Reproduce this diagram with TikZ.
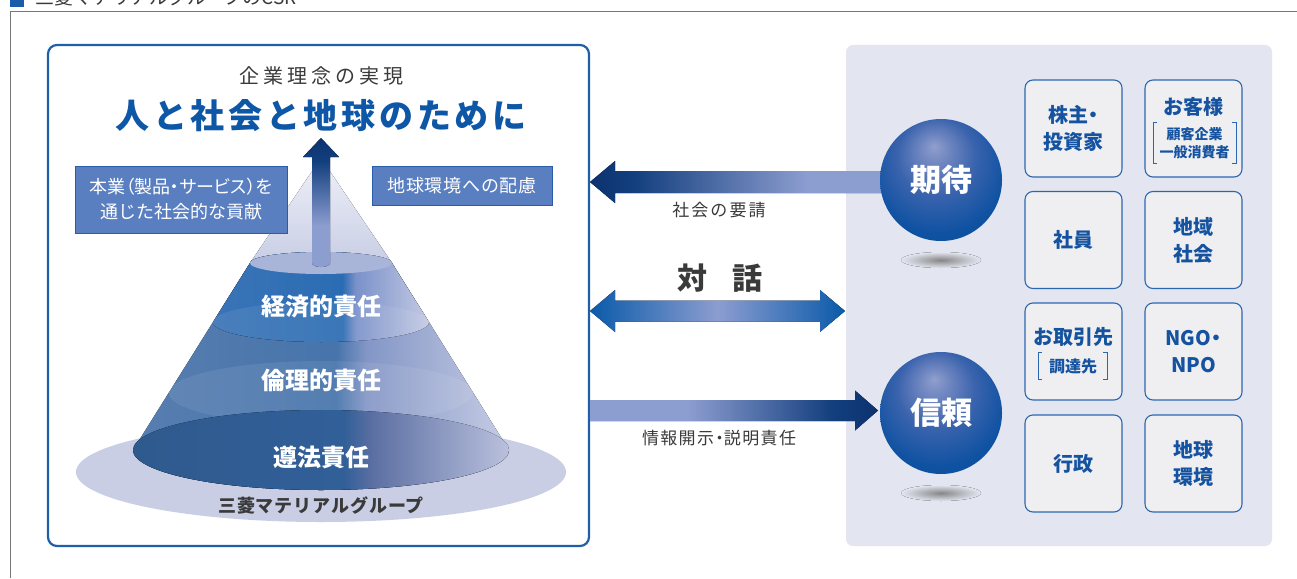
\documentclass[tikz,border=0pt]{standalone}
\usepackage{fontspec}
\setmainfont{Noto Sans CJK JP}
\usetikzlibrary{calc}
\definecolor{frameblue}{HTML}{1F5FA9}
\definecolor{panelbg}{HTML}{E3E6F1}
\definecolor{boxfill}{HTML}{EFEFF2}
\definecolor{boxline}{HTML}{2B67B0}
\definecolor{boxtext}{HTML}{1553A0}
\definecolor{titleblue}{HTML}{0E56A6}
\definecolor{darktext}{HTML}{3A3A3A}
\definecolor{tagfill}{HTML}{5A7FC1}
\definecolor{tagline}{HTML}{2B5CA9}
\definecolor{basec}{HTML}{C9CEE5}
\definecolor{faceA}{HTML}{A8B5D9}
\definecolor{graylinec}{HTML}{777777}
\definecolor{navy}{HTML}{0C326F}
\definecolor{navyb}{HTML}{133F7E}
\definecolor{arrlight}{HTML}{8C9DD0}
\definecolor{dblue}{HTML}{0A5AA9}
\definecolor{shadowc}{HTML}{858585}
\definecolor{hdrblue}{HTML}{1A5CA8}
% cone colours
\definecolor{bAa}{HTML}{3B74B7}\definecolor{bAb}{HTML}{2A6CB3}\definecolor{bAc}{HTML}{7A91CA}\definecolor{bAd}{HTML}{C4CAE3}
\definecolor{bBa}{HTML}{587EB0}\definecolor{bBb}{HTML}{4674AB}\definecolor{bBc}{HTML}{8396C6}\definecolor{bBd}{HTML}{C6CCE4}
\definecolor{bCa}{HTML}{2F5A8E}\definecolor{bCb}{HTML}{315F98}\definecolor{bCc}{HTML}{5D70A3}\definecolor{bCd}{HTML}{BAC1DD}
\definecolor{sph0}{HTML}{909FCD}\definecolor{sph1}{HTML}{6F86C0}\definecolor{sph2}{HTML}{3A63AD}\definecolor{sph3}{HTML}{0F52A2}\definecolor{sph4}{HTML}{0A4A98}
\pgfdeclarehorizontalshading{bandA}{100bp}{color(0bp)=(bAa); color(25bp)=(bAa); color(55bp)=(bAb); color(58bp)=(bAc); color(75bp)=(bAd); color(100bp)=(bAd)}
\pgfdeclarehorizontalshading{bandB}{100bp}{color(0bp)=(bBa); color(25bp)=(bBa); color(52bp)=(bBb); color(56bp)=(bBc); color(75bp)=(bBd); color(100bp)=(bBd)}
\pgfdeclarehorizontalshading{bandC}{100bp}{color(0bp)=(bCa); color(25bp)=(bCa); color(53bp)=(bCb); color(57bp)=(bCc); color(75bp)=(bCd); color(100bp)=(bCd)}
\pgfdeclarehorizontalshading{arrowleft}{100bp}{color(0bp)=(navy); color(25bp)=(navy); color(32bp)=(navyb); color(60bp)=(arrlight); color(100bp)=(arrlight)}
\pgfdeclarehorizontalshading{arrowright}{100bp}{color(0bp)=(arrlight); color(42bp)=(arrlight); color(67bp)=(navyb); color(75bp)=(navy); color(100bp)=(navy)}
\pgfdeclareverticalshading{arrowup}{100bp}{color(0bp)=(arrlight); color(41bp)=(arrlight); color(66bp)=(navyb); color(75bp)=(navy); color(100bp)=(navy)}
\pgfdeclareradialshading{sphereshade}{\pgfpoint{-3bp}{14bp}}{color(0bp)=(sph0); color(6bp)=(sph1); color(16bp)=(sph2); color(28bp)=(sph3); color(40bp)=(sph4); color(50bp)=(sph4)}
\pgfdeclareradialshading{shadowshade}{\pgfpoint{0bp}{0bp}}{color(0bp)=(shadowc); color(6bp)=(shadowc!75!panelbg); color(25bp)=(panelbg); color(50bp)=(panelbg)}
\newcommand\myboxfont{\bfseries\fontsize{20}{27}\selectfont}
\newcommand\mysphfont{\bfseries\fontsize{31}{36}\selectfont}
\newcommand\myconefont{\bfseries\fontsize{24}{28}\selectfont}
\newcommand\prop{\addfontfeature{RawFeature=+palt}}
\tikzset{
  lframe/.style={draw=frameblue, line width=2.2pt, rounded corners=9pt, fill=white, inner sep=0pt},
  panel/.style={fill=panelbg, rounded corners=7pt, inner sep=0pt},
  sbox/.style={draw=boxline, fill=boxfill, line width=1.1pt, rounded corners=8pt, minimum width=97pt, minimum height=97pt, inner sep=0pt, text=boxtext, font=\myboxfont, align=center},
  lbl/.style={inner sep=0pt},
  sphere/.style={circle, minimum size=122pt, inner sep=0pt, shading=sphereshade, text=white, font=\mysphfont},
  ballshadow/.style={shading=shadowshade},
  tagbox/.style={draw=tagline, fill=tagfill, line width=1pt, inner sep=0pt, text=white, align=center},
  bracket/.style={draw=boxline, line width=0.8pt},
  conetext/.style={inner sep=0pt, text=white, font=\myconefont},
  arrlabel/.style={inner sep=0pt, text=darktext, font=\fontsize{17}{20}\selectfont\addfontfeature{LetterSpace=12}},
}
\begin{document}
\begin{tikzpicture}[x=1pt,y=1pt]
\useasboundingbox (0,0) rectangle (1297,-578);
\clip (0,0) rectangle (1297,-578);
\fill[white] (0,0) rectangle (1297,-578);
% header (cut off at the top edge, as in the source)
\fill[hdrblue] (10,2) rectangle (24,-7);
\node[lbl, anchor=base west, text=darktext, font=\fontsize{19}{22}\selectfont] (hdr) at (35,-4.5) {三菱マテリアルグループのCSR};
% outer frame
\draw[graylinec, line width=0.9pt] (10,-578) -- (10,-11) -- (1297,-11);
% left frame and right panel
\node[lframe, minimum width=541pt, minimum height=501pt] (lbox) at (318.5,-295.5) {};
\node[panel, minimum width=426pt, minimum height=501pt] (rpanel) at (1059,-295.5) {};
% titles
\node[lbl, text=darktext, font=\fontsize{20}{24}\selectfont\addfontfeature{LetterSpace=20}] (t1) at (321,-76) {企業理念の実現};
\node[lbl, text=titleblue, font=\bfseries\fontsize{34}{40}\selectfont\addfontfeature{LetterSpace=11}] (t2) at (321,-116) {人と社会と地球のために};
% cone
\fill[basec] (321,-472) ellipse [x radius=245, y radius=50];
\fill[top color=white!70!basec, bottom color=basec!85!faceA] (250,-263) -- (321,-158) -- (392,-263) arc [start angle=0, end angle=-180, x radius=71, y radius=11] -- cycle;
\fill[shading=bandB] (250,-263) -- (133,-450) arc [start angle=180, end angle=360, x radius=188, y radius=40] -- (392,-263) arc [start angle=0, end angle=180, x radius=71, y radius=11] -- cycle;
\fill[shading=bandA] (250,-263) -- (213,-322) arc [start angle=180, end angle=360, x radius=108, y radius=20] -- (392,-263) arc [start angle=0, end angle=180, x radius=71, y radius=11] -- cycle;
\fill[white, opacity=0.08] (321,-322) ellipse [x radius=108, y radius=20];
\fill[white, opacity=0.08] (321,-393) ellipse [x radius=152, y radius=32];
\fill[shading=bandC] (321,-450) ellipse [x radius=188, y radius=40];
\fill[faceA] (321,-263) ellipse [x radius=71, y radius=11];
% up arrow
\coordinate (upB) at (321,-263);
\coordinate (upT) at (321,-138);
\fill[shading=arrowup] ($(upB)+(-9,0)$) -- ($(upT)+(-9,-19)$) -- ($(upT)+(-18,-19)$) -- (upT) -- ($(upT)+(18,-19)$) -- ($(upT)+(9,-19)$) -- ($(upB)+(9,0)$) arc [start angle=0, end angle=-180, x radius=9, y radius=4] -- cycle;
% cone labels
\node[conetext] (c1) at (321,-307) {経済的責任};
\node[conetext] (c2) at (321,-380) {倫理的責任};
\node[conetext] (c3) at (321,-457) {遵法責任};
\node[lbl, text=darktext, font=\bfseries\fontsize{18}{22}\selectfont\addfontfeature{LetterSpace=5}] (grp) at (321,-505) {三菱マテリアルグループ};
% tags
\node[tagbox, minimum width=212pt, minimum height=67pt, font=\fontsize{18}{25}\selectfont] (tag1) at (181,-199.5) {{\prop 本業（製品・サービス）を}\\通じた社会的な貢献};
\node[tagbox, minimum width=180pt, minimum height=39pt, font=\fontsize{18}{22}\selectfont\addfontfeature{LetterSpace=4}] (tag2) at (462,-185.5) {地球環境への配慮};
% arrows
\coordinate (a1L) at (590,-182);
\coordinate (a1R) at (900,-182);
\fill[shading=arrowleft] (a1L) -- ($(a1L)+(25,21)$) -- ($(a1L)+(25,11)$) -- ($(a1R)+(0,11)$) -- ($(a1R)+(0,-11)$) -- ($(a1L)+(25,-11)$) -- ($(a1L)+(25,-21)$) -- cycle;
\coordinate (a2L) at (590,-311);
\coordinate (a2R) at (845,-311);
\fill[left color=dblue, right color=dblue, middle color=arrlight] (a2L) -- ($(a2L)+(25,21)$) -- ($(a2L)+(25,10.5)$) -- ($(a2R)+(-25,10.5)$) -- ($(a2R)+(-25,21)$) -- (a2R) -- ($(a2R)+(-25,-21)$) -- ($(a2R)+(-25,-10.5)$) -- ($(a2L)+(25,-10.5)$) -- ($(a2L)+(25,-21)$) -- cycle;
\coordinate (a3L) at (590,-410.5);
\coordinate (a3R) at (878,-410.5);
\fill[shading=arrowright] ($(a3L)+(0,10.5)$) -- ($(a3R)+(-23,10.5)$) -- ($(a3R)+(-23,20)$) -- (a3R) -- ($(a3R)+(-23,-20)$) -- ($(a3R)+(-23,-10.5)$) -- ($(a3L)+(0,-10.5)$) -- cycle;
\node[arrlabel] (l1) at (719,-210) {社会の要請};
\node[lbl, text=darktext, font=\bfseries\fontsize{30}{34}\selectfont] (l2) at (720,-278) {対\hspace{25pt}話};
\node[arrlabel, font=\fontsize{17}{20}\selectfont\addfontfeature{LetterSpace=8}] (l3) at (719,-438) {{\prop 情報開示・}説明責任};
% spheres
\fill[ballshadow] (941,-260) ellipse [x radius=40, y radius=8];
\fill[ballshadow] (941,-493) ellipse [x radius=40, y radius=8];
\node[sphere] (s1) at (941,-180) {期待};
\node[sphere] (s2) at (941,-413) {信頼};
% stakeholder boxes
\node[sbox] (b1) at (1073.5,-128.5) {{\prop 株主・}\\投資家};
\node[sbox] (b2) at (1193.5,-128.5) {};
\node[sbox] (b3) at (1073.5,-240) {社員};
\node[sbox] (b4) at (1193.5,-240) {地域\\社会};
\node[sbox] (b5) at (1073.5,-351.5) {};
\node[sbox] (b6) at (1193.5,-351.5) {{\prop NGO・}\\NPO};
\node[sbox] (b7) at (1073.5,-463.5) {行政};
\node[sbox] (b8) at (1193.5,-463.5) {地球\\環境};
\node[lbl, text=boxtext, font=\myboxfont] (b2t) at (1193.5,-107) {お客様};
\node[lbl, text=boxtext, align=center, font=\bfseries\fontsize{14}{18}\selectfont] (b2s) at (1194.5,-143) {顧客企業\\一般消費者};
\draw[bracket] (1157,-122) -- (1153,-122) -- (1153,-163) -- (1157,-163);
\draw[bracket] (1232,-122) -- (1236,-122) -- (1236,-163) -- (1232,-163);
\node[lbl, text=boxtext, font=\myboxfont] (b5t) at (1073.5,-337) {お取引先};
\node[lbl, text=boxtext, font=\bfseries\fontsize{16}{18}\selectfont] (b5s) at (1073,-366) {調達先};
\draw[bracket] (1042,-352) -- (1038,-352) -- (1038,-379) -- (1042,-379);
\draw[bracket] (1103,-352) -- (1107,-352) -- (1107,-379) -- (1103,-379);
\end{tikzpicture}
\end{document}
